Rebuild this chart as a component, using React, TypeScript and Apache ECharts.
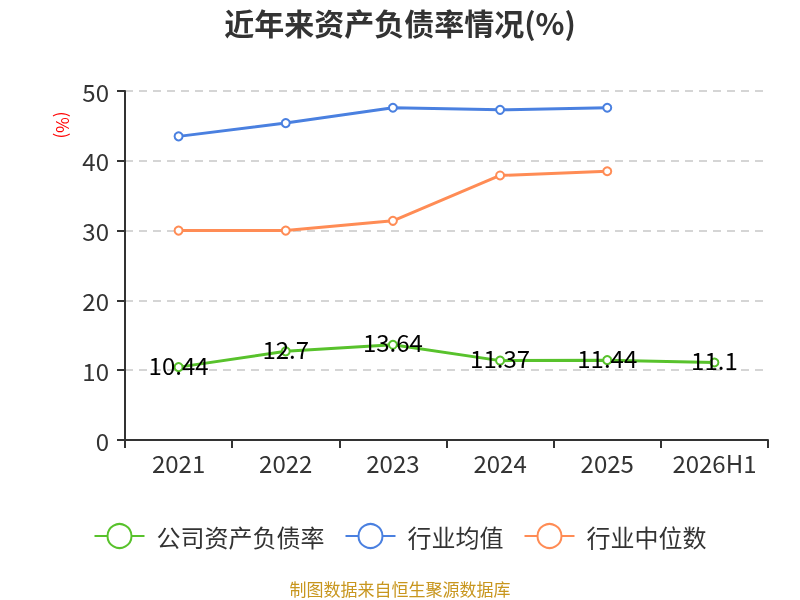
import React, { useEffect, useRef } from "react";
import * as echarts from "echarts";

const categories = ["2021", "2022", "2023", "2024", "2025", "2026H1"];
const companyRatio = [10.44, 12.7, 13.64, 11.37, 11.44, 11.1];
const industryMean = [43.5, 45.4, 47.6, 47.3, 47.6, null];
const industryMedian = [30.0, 30.0, 31.4, 37.9, 38.5, null];
const seriesNames = ["公司资产负债率", "行业均值", "行业中位数"];
const colors = ["#58c22c", "#4a80e0", "#ff8c55"];

const FONT = "'Noto Sans CJK SC', 'Noto Sans', sans-serif";

export default function App() {
  const ref = useRef<HTMLDivElement>(null);
  useEffect(() => {
    if (!ref.current) return;
    const chart = echarts.init(ref.current, undefined, { renderer: "svg" });
    const mk = (i: number, data: (number | null)[], withLabel: boolean) => ({
      name: seriesNames[i],
      type: "line",
      data,
      symbol: "emptyCircle",
      symbolSize: 8,
      lineStyle: { width: 3, color: colors[i] },
      itemStyle: { color: colors[i], borderWidth: 2 },
      label: withLabel
        ? {
            show: true,
            position: "inside",
            offset: [0, -3],
            color: "#000",
            fontSize: 24,
            fontFamily: FONT,
          }
        : { show: false },
      z: withLabel ? 3 : 2,
    });
    chart.setOption({
      animation: false,
      textStyle: { fontFamily: FONT },
      title: {
        text: "近年来资产负债率情况(%)",
        left: "center",
        top: 2,
        textStyle: { fontSize: 30, fontWeight: "bold", color: "#333", fontFamily: FONT },
      },
      grid: { left: 125, right: 32, top: 91, bottom: 160 },
      legend: {
        bottom: 46,
        left: "center",
        itemWidth: 50,
        itemHeight: 30,
        itemGap: 20,
        itemStyle: { borderWidth: 2 },
        lineStyle: { width: 2 },
        textStyle: {
          fontSize: 24,
          color: "#333",
          fontFamily: FONT,
          padding: [0, 0, 0, 7],
        },
        data: seriesNames,
      },
      xAxis: {
        type: "category",
        data: categories,
        boundaryGap: true,
        axisLine: { lineStyle: { color: "#333", width: 2 } },
        axisTick: { show: true, interval: 0, length: 8, lineStyle: { color: "#333", width: 2 } },
        axisLabel: { interval: 0, fontSize: 24, color: "#333", margin: 10, fontFamily: FONT },
      },
      yAxis: {
        type: "value",
        min: 0,
        max: 50,
        interval: 10,
        axisLine: { show: true, lineStyle: { color: "#333", width: 2 } },
        axisTick: { show: true, length: 8, lineStyle: { color: "#333", width: 2 } },
        axisLabel: { fontSize: 24, color: "#333", margin: 16, fontFamily: FONT },
        splitLine: { lineStyle: { type: [8, 6], color: "#c8c8c8", width: 1.5 } },
      },
      graphic: [
        {
          type: "text",
          x: 63,
          y: 125,
          rotation: -Math.PI / 2,
          style: {
            text: "(%)",
            fill: "#ff0000",
            fontSize: 17,
            fontFamily: FONT,
            textAlign: "center",
            textVerticalAlign: "middle",
          },
        },
        {
          type: "text",
          left: "center",
          top: 580,
          style: {
            text: "制图数据来自恒生聚源数据库",
            fill: "#c8961e",
            fontSize: 17,
            fontFamily: FONT,
          },
        },
      ],
      series: [
        mk(1, industryMean, false),
        mk(2, industryMedian, false),
        mk(0, companyRatio, true),
      ],
    });
    return () => chart.dispose();
  }, []);
  return (
    <div
      ref={ref}
      style={{ position: "fixed", left: 0, top: 0, width: 800, height: 600 }}
    />
  );
}
